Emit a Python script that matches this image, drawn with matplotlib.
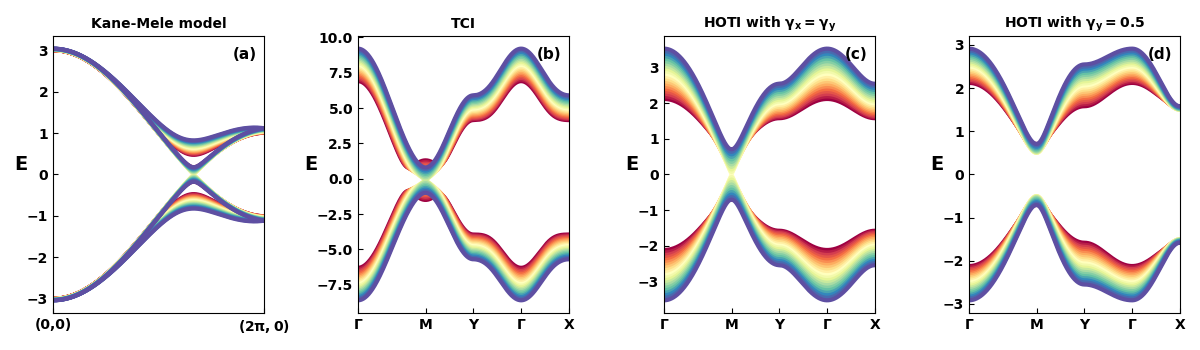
import numpy as np
import matplotlib.pyplot as plt

plt.rcParams['font.weight'] = 'bold'
plt.rcParams['axes.titleweight'] = 'bold'
plt.rcParams['axes.labelweight'] = 'bold'
plt.rcParams['mathtext.default'] = 'bf'

# parameter sweeps (one line colour per value, red -> blue)
km_mass = [0.1500, 0.1675, 0.1850, 0.2025, 0.2200, 0.2375, 0.2550, 0.2725,
           0.2900, 0.3075, 0.3250, 0.3425, 0.3600, 0.3775, 0.3950, 0.4125,
           0.4300, 0.4475, 0.4650, 0.4825, 0.5000]
km_soc = 0.0625
tci_mass = [2.600, 2.715, 2.830, 2.945, 3.060, 3.175, 3.290, 3.405, 3.520,
            3.635, 3.750, 3.865, 3.980, 4.095, 4.210, 4.325, 4.440, 4.555,
            4.670, 4.785, 4.900]
tci_hop = 2.0
tci_warp = 1.55
tci_vel = 0.8
hoti_gamma = [0.50, 0.55, 0.60, 0.65, 0.70, 0.75, 0.80, 0.85, 0.90, 0.95, 1.00,
              1.05, 1.10, 1.15, 1.20, 1.25, 1.30, 1.35, 1.40, 1.45, 1.50]
hoti_gy_fixed = 0.5
hoti_lam = 1.0

titles = ['Kane-Mele model', 'TCI', r'HOTI with $\gamma_x = \gamma_y$',
          r'HOTI with $\gamma_y = 0.5$']
panel_tags = ['(a)', '(b)', '(c)', '(d)']
path_labels = [r'$\Gamma$', 'M', 'Y', r'$\Gamma$', 'X']


def square_path(n=300):
    pts = [(0, 0), (np.pi, np.pi), (0, np.pi), (0, 0), (np.pi, 0)]
    kx, ky, dist, ticks = [], [], [], [0.0]
    d0 = 0.0
    for (x0, y0), (x1, y1) in zip(pts[:-1], pts[1:]):
        s = np.linspace(0, 1, n)
        seg = np.hypot(x1 - x0, y1 - y0)
        kx.append(x0 + (x1 - x0) * s)
        ky.append(y0 + (y1 - y0) * s)
        dist.append(d0 + seg * s)
        d0 += seg
        ticks.append(d0)
    return np.concatenate(kx), np.concatenate(ky), np.concatenate(dist), ticks


fig = plt.figure(figsize=(12, 3.5), dpi=100)
lefts = [0.0442, 0.2983, 0.5533, 0.8075]
axes = [fig.add_axes([l, 0.106, 0.1758, 0.791]) for l in lefts]
cmap = plt.cm.Spectral
lw = 3

# (a) Kane-Mele along (0,0) -> (2pi,0)
ax = axes[0]
k = np.linspace(0, 2 * np.pi, 800)
f = 1 + 2 * np.cos(k / 2)
g = np.sin(k) - 2 * np.sin(k / 2)
cols = cmap(np.linspace(0, 1, len(km_mass)))
for M, c in zip(km_mass, cols):
    for s in (1, -1):
        e = np.sqrt(f ** 2 + (M + s * 2 * km_soc * g) ** 2)
        ax.plot(k, e, color=c, lw=lw)
        ax.plot(k, -e, color=c, lw=lw)
ax.set_xlim(0, 2 * np.pi)
ax.set_xticks([0, 2 * np.pi])
ax.set_xticklabels(['(0,0)', r'$(2\pi, 0)$'])

kx, ky, dist, ticks = square_path()

# (b) TCI
ax = axes[1]
C = np.cos(kx) + np.cos(ky)
D = np.cos(kx) - np.cos(ky)
S = np.sin(kx) ** 2 + np.sin(ky) ** 2
eps = 0.1 + 0.1 * C
cols = cmap(np.linspace(0, 1, len(tci_mass)))
for m, c in zip(tci_mass, cols):
    e = np.sqrt((m + tci_hop * C) ** 2 + (tci_warp * D) ** 2 + tci_vel ** 2 * S)
    ax.plot(dist, eps + e, color=c, lw=lw)
    ax.plot(dist, eps - e, color=c, lw=lw)

# (c) HOTI gamma_x = gamma_y
ax = axes[2]
cols = cmap(np.linspace(0, 1, len(hoti_gamma)))
for gm, c in zip(hoti_gamma, cols):
    e = np.sqrt(2 * gm ** 2 + 2 * hoti_lam ** 2
                + 2 * hoti_lam * gm * (np.cos(kx) + np.cos(ky)))
    ax.plot(dist, e, color=c, lw=lw)
    ax.plot(dist, -e, color=c, lw=lw)

# (d) HOTI gamma_y = 0.5
ax = axes[3]
for gx, c in zip(hoti_gamma, cols):
    gy = hoti_gy_fixed
    e = np.sqrt(gx ** 2 + gy ** 2 + 2 * hoti_lam ** 2
                + 2 * hoti_lam * (gx * np.cos(kx) + gy * np.cos(ky)))
    ax.plot(dist, e, color=c, lw=lw)
    ax.plot(dist, -e, color=c, lw=lw)

for ax in axes[1:]:
    ax.set_xlim(ticks[0], ticks[-1])
    ax.set_xticks(ticks)
    ax.set_xticklabels(path_labels)

for ax, ttl, tag in zip(axes, titles, panel_tags):
    ax.set_title(ttl, fontsize=10)
    ax.set_ylabel('E', fontsize=14, rotation=0, labelpad=4)
    ax.tick_params(direction='in', labelsize=10)
    ax.text(0.965, 0.96, tag, transform=ax.transAxes, ha='right', va='top',
            fontsize=11, fontweight='bold')

fig.savefig('out.png', dpi=100)
